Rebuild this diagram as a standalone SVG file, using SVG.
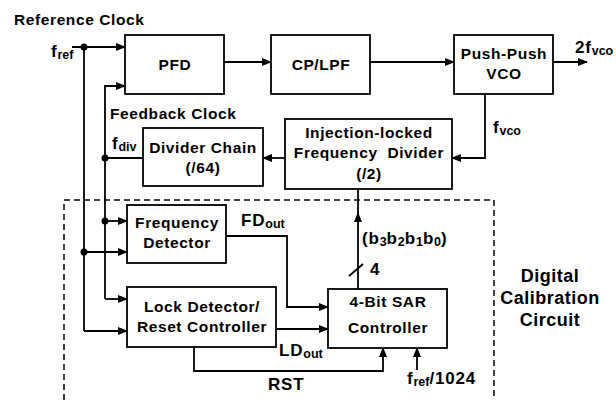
<svg xmlns="http://www.w3.org/2000/svg" width="616" height="400" viewBox="0 0 616 400">
<defs>
<marker id="ah" markerWidth="10" markerHeight="8" refX="9" refY="4" orient="auto" markerUnits="userSpaceOnUse">
<path d="M0,0 L10,4 L0,8 Z" fill="#000"/>
</marker>
<style>
text{font-family:"Liberation Sans",Arial,sans-serif;font-weight:bold;fill:#000;}
.t{font-size:15.5px;letter-spacing:0.6px;text-anchor:middle;}
.h{font-size:15.5px;letter-spacing:0.6px;}
.l{font-size:17px;letter-spacing:0.8px;}
.s{font-size:12.5px;letter-spacing:0;}
.big{font-size:18px;letter-spacing:0.5px;text-anchor:middle;}
.box{fill:#fff;stroke:#000;stroke-width:1.8;}
.w{fill:none;stroke:#000;stroke-width:1.8;}
.a{fill:none;stroke:#000;stroke-width:1.8;marker-end:url(#ah);}
.dash{fill:none;stroke:#000;stroke-width:1.5;stroke-dasharray:6,4;}
</style>
</defs>
<rect width="616" height="400" fill="#fff"/>
<path class="dash" d="M64,400 V200 H494 V400"/>
<g id="connectors">
<path class="a" d="M72,47 H125"/>
<path class="w" d="M84,47 V331"/>
<path class="a" d="M84,331 H127"/>
<path class="a" d="M84,252 H127"/>
<path class="a" d="M105,158 V86 H125"/>
<path class="w" d="M105,158 V299"/>
<path class="a" d="M105,299 H127"/>
<path class="a" d="M105,221 H127"/>
<path class="w" d="M143,158 H105"/>
<path class="a" d="M224,62 H271"/>
<path class="a" d="M370,62 H454"/>
<path class="a" d="M553,62 H587"/>
<path class="a" d="M485,94 V158 H452"/>
<path class="a" d="M285,158 H263"/>
<path class="a" d="M358,289 V213"/>
<path class="w" d="M358,214 V189"/>
<path class="w" d="M349,276 L363,264"/>
<path class="a" d="M226,236 H287 V307 H328"/>
<path class="a" d="M276,329 H328"/>
<path class="a" d="M194,347 V371 H383 V348"/>
<path class="a" d="M417,370 V348"/>
<circle cx="84" cy="47" r="3.5"/>
<circle cx="84" cy="252" r="3.5"/>
<circle cx="105" cy="158" r="3.5"/>
<circle cx="105" cy="221" r="3.5"/>
</g>
<g id="pfd"><rect class="box" x="125" y="35" width="99" height="59"/><text class="t" x="175" y="70">PFD</text></g>
<g id="cplpf"><rect class="box" x="271" y="35" width="99" height="59"/><text class="t" x="321" y="70">CP/LPF</text></g>
<g id="vco"><rect class="box" x="454" y="35" width="99" height="59"/><text class="t" x="504" y="59">Push-Push</text><text class="t" x="504" y="79">VCO</text></g>
<g id="ifd"><rect class="box" x="285" y="119" width="167" height="70"/><text class="t" x="369" y="138">Injection-locked</text><text class="t" x="369" y="158" xml:space="preserve">Frequency  Divider</text><text class="t" x="369" y="179">(/2)</text></g>
<g id="divider"><rect class="box" x="143" y="128" width="120" height="58"/><text class="t" x="203" y="153">Divider Chain</text><text class="t" x="203" y="173">(/64)</text></g>
<g id="fd"><rect class="box" x="127" y="205" width="99" height="58"/><text class="t" x="177" y="228">Frequency</text><text class="t" x="177" y="248">Detector</text></g>
<g id="ld"><rect class="box" x="127" y="287" width="149" height="60"/><text class="t" x="202" y="312">Lock Detector/</text><text class="t" x="202" y="332">Reset Controller</text></g>
<g id="sar"><rect class="box" x="328" y="289" width="119" height="59"/><text class="t" x="388" y="307">4-Bit SAR</text><text class="t" x="388" y="333">Controller</text></g>
<g id="labels">
<text class="h" x="14" y="25">Reference Clock</text>
<text class="l" x="51" y="57">f<tspan class="s" dy="2">ref</tspan></text>
<text class="h" x="110" y="119">Feedback Clock</text>
<text class="l" x="112" y="149">f<tspan class="s" dy="2">div</tspan></text>
<text class="l" x="493" y="133">f<tspan class="s" dy="2">vco</tspan></text>
<text class="l" x="575" y="53">2f<tspan class="s" dy="2">vco</tspan></text>
<text class="l" x="241" y="226">FD<tspan class="s" dy="2">out</tspan></text>
<text class="l" x="279" y="356">LD<tspan class="s" dy="2">out</tspan></text>
<text class="l" x="268" y="390">RST</text>
<text class="l" x="407" y="384">f<tspan class="s" dy="2">ref</tspan><tspan dy="-2">/1024</tspan></text>
<text class="l" x="362" y="244">(b<tspan class="s" dy="2">3</tspan><tspan dy="-2">b</tspan><tspan class="s" dy="2">2</tspan><tspan dy="-2">b</tspan><tspan class="s" dy="2">1</tspan><tspan dy="-2">b</tspan><tspan class="s" dy="2">0</tspan><tspan dy="-2">)</tspan></text>
<text class="l" x="370" y="275">4</text>
<text class="big" x="550" y="282">Digital</text>
<text class="big" x="550" y="304">Calibration</text>
<text class="big" x="550" y="326">Circuit</text>
</g>
</svg>
